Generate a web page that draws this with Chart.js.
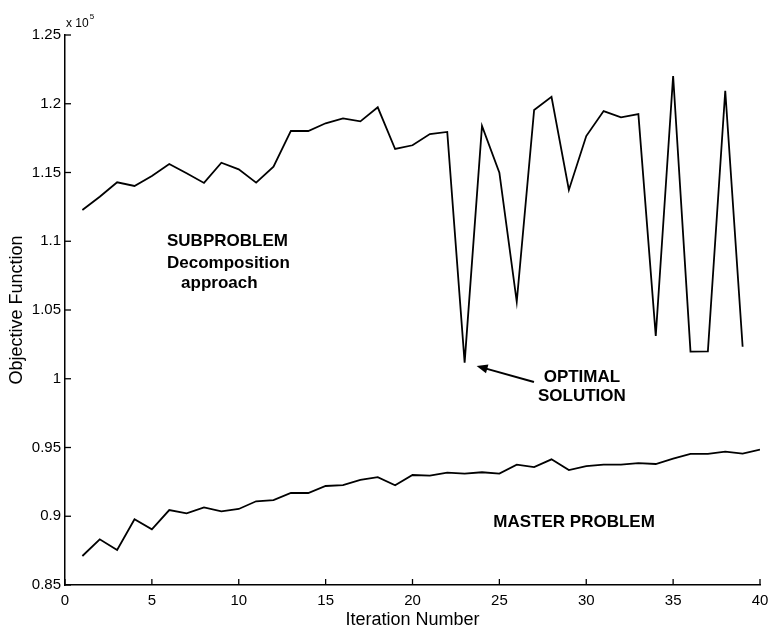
<!DOCTYPE html>
<html>
<head>
<meta charset="utf-8">
<title>Objective Function vs Iteration</title>
<script src="https://cdn.jsdelivr.net/npm/chart.js@4.4.1/dist/chart.umd.min.js"></script>
<style>
  html, body { margin: 0; padding: 0; background: #fff; }
  #wrap { width: 769px; height: 633px; }
</style>
</head>
<body>
<div id="wrap"><canvas id="myChart" width="769" height="633"></canvas></div>
<script>
// iteration numbers
var subIter = [1, 2, 3, 4, 5, 6, 7, 8, 9, 10, 11, 12, 13, 14, 15, 16, 17, 18, 19, 20,
               21, 22, 23, 24, 25, 26, 27, 28, 29, 30, 31, 32, 33, 34, 35, 36, 37, 38, 39];
var masterIter = [1, 2, 3, 4, 5, 6, 7, 8, 9, 10, 11, 12, 13, 14, 15, 16, 17, 18, 19, 20,
                  21, 22, 23, 24, 25, 26, 27, 28, 29, 30, 31, 32, 33, 34, 35, 36, 37, 38, 39, 40];

// objective function values
var subValues = [112270, 113240, 114290, 114020, 114750, 115620, 114940, 114240, 115710, 115230,
                 114260, 115420, 118020, 118020, 118580, 118940, 118720, 119740, 116710, 116980,
                 117800, 117950, 101170, 118380, 114990, 105600, 119550, 120510, 113730, 117650,
                 119470, 119010, 119250, 103110, 122020, 101970, 101990, 120950, 102330];
var masterValues = [87110, 88320, 87550, 89780, 89050, 90450, 90210, 90650, 90360, 90530,
                    91090, 91180, 91690, 91690, 92200, 92270, 92640, 92850, 92250, 93000,
                    92950, 93170, 93100, 93200, 93100, 93750, 93580, 94140, 93360, 93650,
                    93750, 93750, 93870, 93800, 94190, 94530, 94530, 94700, 94550, 94840];

var xTicks = [0, 5, 10, 15, 20, 25, 30, 35, 40];
var yTicks = [85000, 90000, 95000, 100000, 105000, 110000, 115000, 120000, 125000];

var FONT = "'Liberation Sans', Arial, Helvetica, sans-serif";

function toPoints(xs, ys) {
    var pts = [];
    for (var i = 0; i < xs.length; i++) pts.push({ x: xs[i], y: ys[i] });
    return pts;
}

// ticks pointing inward, MATLAB style, plus the text labels and the arrow
var decorPlugin = {
    id: 'decor',
    afterDraw: function (chart) {
        var ctx = chart.ctx;
        var xs = chart.scales.x, ys = chart.scales.y;
        var area = chart.chartArea;

        ctx.save();
        ctx.strokeStyle = '#000';
        ctx.lineWidth = 1.3;
        xTicks.forEach(function (t) {
            var px = xs.getPixelForValue(t);
            ctx.beginPath();
            ctx.moveTo(px, area.bottom);
            ctx.lineTo(px, area.bottom - 6);
            ctx.stroke();
        });
        yTicks.forEach(function (t) {
            var py = ys.getPixelForValue(t);
            ctx.beginPath();
            ctx.moveTo(area.left, py);
            ctx.lineTo(area.left + 6, py);
            ctx.stroke();
        });

        // exponent label
        ctx.fillStyle = '#000';
        ctx.textBaseline = 'alphabetic';
        ctx.textAlign = 'left';
        ctx.font = '12px ' + FONT;
        ctx.fillText('x 10', area.left + 1, area.top - 8);
        var w = ctx.measureText('x 10').width;
        ctx.font = '8px ' + FONT;
        ctx.fillText('5', area.left + 2 + w, area.top - 16);

        // annotations
        var notes = [
            { text: 'SUBPROBLEM', x: 5.87, y: 110020, align: 'left' },
            { text: 'Decomposition', x: 5.87, y: 108420, align: 'left' },
            { text: 'approach', x: 6.68, y: 106960, align: 'left' },
            { text: 'OPTIMAL', x: 29.75, y: 100090, align: 'center' },
            { text: 'SOLUTION', x: 29.75, y: 98710, align: 'center' },
            { text: 'MASTER PROBLEM', x: 29.3, y: 89530, align: 'center' }
        ];
        ctx.font = 'bold 17px ' + FONT;
        ctx.textBaseline = 'middle';
        notes.forEach(function (n) {
            ctx.textAlign = n.align;
            ctx.fillText(n.text, xs.getPixelForValue(n.x), ys.getPixelForValue(n.y));
        });

        // arrow pointing at the optimal solution
        var x0 = xs.getPixelForValue(26.99), y0 = ys.getPixelForValue(99760);
        var x1 = xs.getPixelForValue(23.69), y1 = ys.getPixelForValue(100930);
        var ang = Math.atan2(y1 - y0, x1 - x0);
        ctx.lineWidth = 2;
        ctx.beginPath();
        ctx.moveTo(x0, y0);
        ctx.lineTo(x1 - 8 * Math.cos(ang), y1 - 8 * Math.sin(ang));
        ctx.stroke();
        ctx.beginPath();
        ctx.moveTo(x1, y1);
        ctx.lineTo(x1 - 11 * Math.cos(ang) + 4.5 * Math.sin(ang), y1 - 11 * Math.sin(ang) - 4.5 * Math.cos(ang));
        ctx.lineTo(x1 - 11 * Math.cos(ang) - 4.5 * Math.sin(ang), y1 - 11 * Math.sin(ang) + 4.5 * Math.cos(ang));
        ctx.closePath();
        ctx.fill();
        ctx.restore();
    }
};

var ctx = document.getElementById('myChart').getContext('2d');
var myChart = new Chart(ctx, {
    type: 'line',
    data: {
        datasets: [{
            label: 'Subproblem',
            data: toPoints(subIter, subValues),
            borderColor: '#000',
            borderWidth: 1.8,
            pointRadius: 0,
            tension: 0,
            fill: false
        }, {
            label: 'Master problem',
            data: toPoints(masterIter, masterValues),
            borderColor: '#000',
            borderWidth: 1.8,
            pointRadius: 0,
            tension: 0,
            fill: false
        }]
    },
    options: {
        responsive: false,
        animation: false,
        layout: { padding: { top: 35, right: 9, left: 0, bottom: 0 } },
        plugins: {
            legend: { display: false },
            tooltip: { enabled: false }
        },
        scales: {
            x: {
                type: 'linear',
                min: 0,
                max: 40,
                afterBuildTicks: function (scale) {
                    scale.ticks = xTicks.map(function (v) { return { value: v }; });
                },
                grid: { display: false, drawTicks: false },
                border: { display: true, color: '#000', width: 1.5 },
                ticks: {
                    color: '#000',
                    padding: 7,
                    maxRotation: 0,
                    font: { family: FONT, size: 15 }
                },
                title: {
                    display: true,
                    text: 'Iteration Number',
                    color: '#000',
                    padding: { top: 0, bottom: 2 },
                    font: { family: FONT, size: 18 }
                },
                afterFit: function (scale) {
                    scale.height = 48;
                    scale.paddingLeft = 0;
                    scale.paddingRight = 0;
                }
            },
            y: {
                type: 'linear',
                min: 85000,
                max: 125000,
                afterBuildTicks: function (scale) {
                    scale.ticks = yTicks.map(function (v) { return { value: v }; });
                },
                grid: { display: false, drawTicks: false },
                border: { display: true, color: '#000', width: 1.5 },
                ticks: {
                    color: '#000',
                    padding: 4,
                    font: { family: FONT, size: 15 },
                    callback: function (v) { return String(v / 100000); }
                },
                title: {
                    display: true,
                    text: 'Objective Function',
                    color: '#000',
                    padding: { top: 6, bottom: 0 },
                    font: { family: FONT, size: 18 }
                },
                afterFit: function (scale) { scale.width = 65; }
            }
        }
    },
    plugins: [decorPlugin]
});
</script>
</body>
</html>
